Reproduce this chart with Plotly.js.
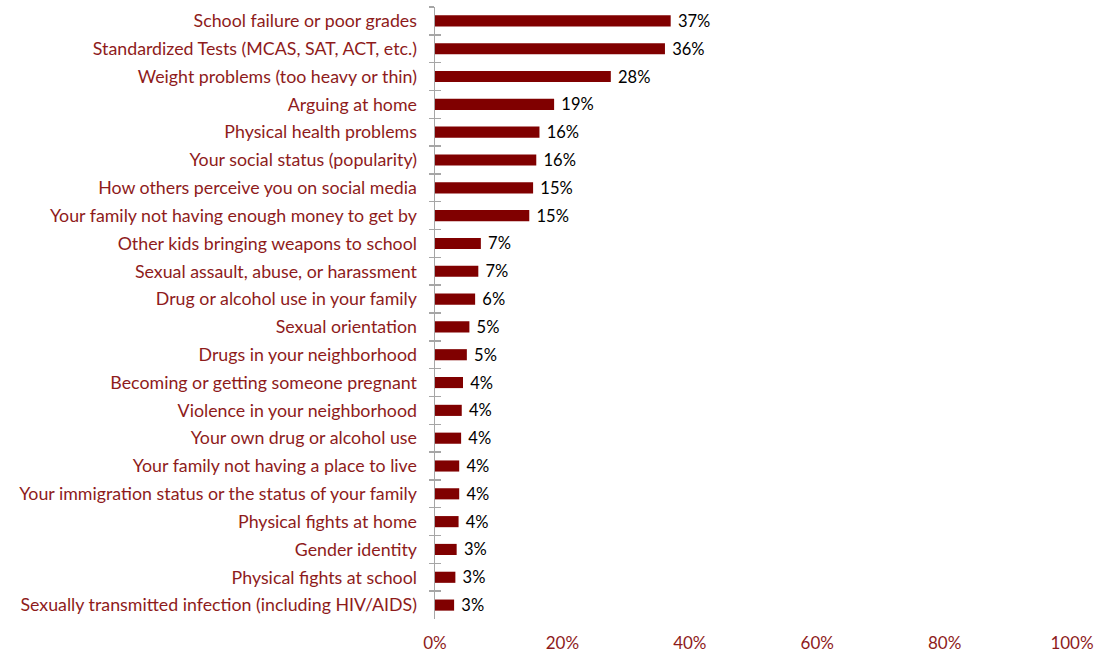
<!DOCTYPE html>
<html><head><meta charset="utf-8">
<script src="https://cdn.plot.ly/plotly-3.0.1.min.js"></script>
<style>html,body{margin:0;padding:0;background:#fff}#chart{width:1095px;height:652px}</style>
</head><body><div id="chart"></div>
<script>
const categories = [
  "School failure or poor grades",
  "Standardized Tests (MCAS, SAT, ACT, etc.)",
  "Weight problems (too heavy or thin)",
  "Arguing at home",
  "Physical health problems",
  "Your social status (popularity)",
  "How others perceive you on social media",
  "Your family not having enough money to get by",
  "Other kids bringing weapons to school",
  "Sexual assault, abuse, or harassment",
  "Drug or alcohol use in your family",
  "Sexual orientation",
  "Drugs in your neighborhood",
  "Becoming or getting someone pregnant",
  "Violence in your neighborhood",
  "Your own drug or alcohol use",
  "Your family not having a place to live",
  "Your immigration status or the status of your family",
  "Physical fights at home",
  "Gender identity",
  "Physical fights at school",
  "Sexually transmitted infection (including HIV/AIDS)"
];
const values = [37.0, 36.1, 27.6, 18.7, 16.4, 15.9, 15.4, 14.8, 7.2, 6.8, 6.3, 5.4, 5.0, 4.4, 4.2, 4.1, 3.8, 3.8, 3.7, 3.4, 3.2, 3.0];
const valueLabels = ["37%","36%","28%","19%","16%","16%","15%","15%","7%","7%","6%","5%","5%","4%","4%","4%","4%","4%","4%","3%","3%","3%"];
const xTickVals = [0, 20, 40, 60, 80, 100];
const xTickText = ["0%","20%","40%","60%","80%","100%"];

const labelColor = "#8E1B1B";
const fontFam = "Lato, 'Open Sans', sans-serif";

const trace = {
  type: "bar",
  orientation: "h",
  y: categories,
  x: values,
  text: valueLabels,
  texttemplate: " %{text}",
  textposition: "outside",
  constraintext: "none",
  cliponaxis: false,
  textfont: {color: "#000000", size: 16.5, family: fontFam},
  marker: {color: "#800000"},
  hoverinfo: "skip",
  showlegend: false
};

const trace2 = {
  type: "bar", orientation: "h", y: categories, x: values.map(() => null),
  yaxis: "y2", hoverinfo: "skip", showlegend: false
};

const layout = {
  width: 1095, height: 652,
  margin: {l: 435, r: 23, t: 7, b: 33},
  paper_bgcolor: "#ffffff",
  plot_bgcolor: "#ffffff",
  bargap: 0.6,
  font: {family: fontFam},
  xaxis: {
    range: [0, 100],
    tickvals: xTickVals,
    ticktext: xTickText,
    showgrid: false,
    zeroline: false,
    showline: false,
    ticks: "",
    ticklabelstandoff: 12,
    tickfont: {color: labelColor, size: 17, family: fontFam},
    fixedrange: true
  },
  yaxis: {
    type: "category",
    categoryorder: "array",
    categoryarray: categories,
    autorange: "reversed",
    showgrid: false,
    zeroline: false,
    showline: true,
    linecolor: "#A6A6A6",
    linewidth: 1.5,
    ticks: "outside",
    tickson: "boundaries",
    ticklen: 5,
    tickwidth: 1.5,
    tickcolor: "#A6A6A6",
    ticklabelstandoff: 13,
    tickfont: {color: labelColor, size: 17.8, family: fontFam},
    fixedrange: true
  },
  yaxis2: {
    overlaying: "y",
    type: "category",
    categoryorder: "array",
    categoryarray: categories,
    autorange: "reversed",
    showgrid: false,
    zeroline: false,
    showline: false,
    ticks: "inside",
    tickson: "boundaries",
    ticklen: 6,
    tickwidth: 1.5,
    tickcolor: "#A6A6A6",
    showticklabels: false,
    fixedrange: true
  }
};

Plotly.newPlot("chart", [trace, trace2], layout, {displayModeBar: false, staticPlot: true});
</script>
</body></html>
